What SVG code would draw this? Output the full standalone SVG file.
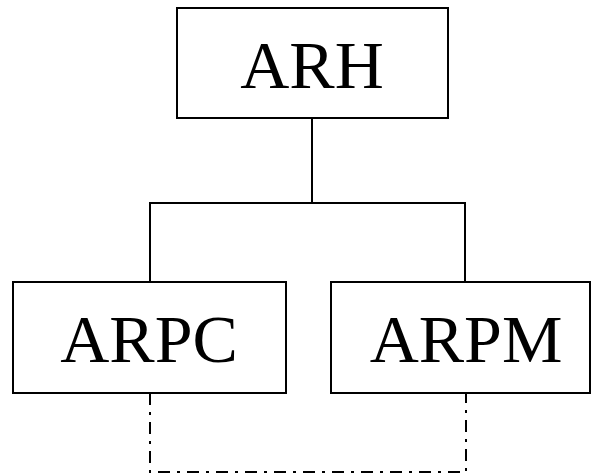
<svg xmlns="http://www.w3.org/2000/svg" width="592" height="474" viewBox="0 0 592 474">
<style>
.box{fill:#fff;stroke:#000;stroke-width:2}
.lbl{font-family:"Liberation Serif","Times New Roman",serif;font-size:68px;fill:#000;text-anchor:middle}
.solid{fill:none;stroke:#000;stroke-width:2}
.dashdot{fill:none;stroke:#000;stroke-width:2;stroke-dasharray:12 7 3 7}
</style>
<rect width="592" height="474" fill="#fff"/>
<g id="connectors">
<path class="solid" d="M312 118V203M150 282V203H465V282"/>
<path class="dashdot" d="M150 393V472H466V393"/>
</g>
<g id="ARH">
<rect class="box" x="177" y="8" width="271" height="110"/>
<text class="lbl" x="312" y="88">ARH</text>
</g>
<g id="ARPC">
<rect class="box" x="13" y="282" width="273" height="111"/>
<text class="lbl" x="149" y="362">ARPC</text>
</g>
<g id="ARPM">
<rect class="box" x="331" y="282" width="259" height="111"/>
<text class="lbl" x="466" y="362">ARPM</text>
</g>
</svg>
